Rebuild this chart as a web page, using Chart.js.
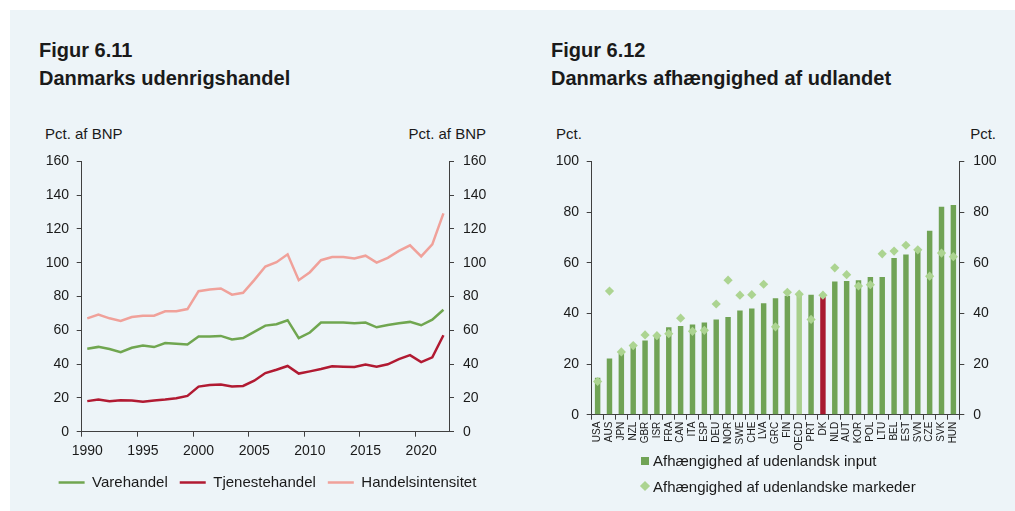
<!DOCTYPE html>
<html lang="da">
<head>
<meta charset="utf-8">
<script src="https://cdn.jsdelivr.net/npm/chart.js@4.4.1/dist/chart.umd.min.js"></script>
<style>
  body {
    margin: 0;
    width: 1015px;
    height: 511px;
    position: relative;
    overflow: hidden;
    background: #ffffff;
    font-family: "Liberation Sans", Arial, sans-serif;
    color: #1a1a1a;
  }
  .panel { position: absolute; left: 10px; top: 10px; right: 0; bottom: 0; background: #edf4f8; }
  .title { position: absolute; top: 36px; font-weight: bold; font-size: 20px; line-height: 28px; white-space: nowrap; }
  .unit { position: absolute; top: 125px; font-size: 15px; line-height: 18px; white-space: nowrap; }
  canvas { position: absolute; }
  #depLegend { position: absolute; left: 641px; top: 448px; font-size: 15px; }
  #depLegend .row { display: flex; align-items: center; height: 25.5px; white-space: nowrap; }
  #depLegend .mark { width: 8px; height: 8px; margin-right: 4px; }
  #depLegend .diamond { transform: rotate(45deg) scale(0.9); }
</style>
</head>
<body>
<div class="panel"></div>

<div class="title" style="left:39px">Figur 6.11<br>Danmarks udenrigshandel</div>
<div class="title" style="left:551px">Figur 6.12<br>Danmarks afhængighed af udlandet</div>

<div class="unit" style="left:45px">Pct. af BNP</div>
<div class="unit" style="right:529px">Pct. af BNP</div>
<div class="unit" style="left:556px">Pct.</div>
<div class="unit" style="right:19px">Pct.</div>

<canvas id="tradeChart" width="475" height="356" style="left:30px; top:144px"></canvas>
<canvas id="depChart" width="470" height="316" style="left:540px; top:144px"></canvas>
<div id="depLegend"></div>

<script>
// =============================
// DATA
// =============================
const years = [
  1990, 1991, 1992, 1993, 1994, 1995, 1996, 1997, 1998, 1999,
  2000, 2001, 2002, 2003, 2004, 2005, 2006, 2007, 2008, 2009,
  2010, 2011, 2012, 2013, 2014, 2015, 2016, 2017, 2018, 2019,
  2020, 2021, 2022
];
const yearLabels = [1990, 1995, 2000, 2005, 2010, 2015, 2020];

const varehandel = [
  49.1, 50.2, 48.9, 47.1, 49.7, 51.0, 50.1, 52.5, 52.0, 51.6,
  56.3, 56.3, 56.7, 54.6, 55.4, 59.1, 62.8, 63.6, 66.0, 55.4,
  58.7, 64.6, 64.6, 64.6, 64.2, 64.6, 61.8, 63.2, 64.2, 65.0,
  63.0, 66.3, 72.2
];
const tjenestehandel = [
  18.1, 19.0, 18.1, 18.6, 18.5, 17.7, 18.5, 19.0, 19.8, 21.2,
  26.7, 27.7, 27.9, 26.7, 27.1, 30.2, 34.7, 36.7, 38.9, 34.4,
  35.7, 37.1, 38.7, 38.5, 38.3, 39.7, 38.5, 39.9, 43.0, 45.3,
  41.2, 44.0, 57.1
];
const handelsintensitet = [
  67.1, 69.3, 67.1, 65.6, 67.9, 68.7, 68.7, 71.3, 71.3, 72.6,
  83.2, 84.2, 84.8, 81.1, 82.2, 89.7, 97.8, 100.3, 105.0, 89.7,
  94.4, 101.5, 103.4, 103.4, 102.5, 104.2, 100.1, 102.9, 107.0, 110.3,
  103.8, 110.9, 129.2
];
const tradeTicks = [0, 20, 40, 60, 80, 100, 120, 140, 160];

const countries = [
  'USA', 'AUS', 'JPN', 'NZL', 'GBR', 'ISR', 'FRA', 'CAN', 'ITA', 'ESP',
  'DEU', 'NOR', 'SWE', 'CHE', 'LVA', 'GRC', 'FIN', 'OECD', 'PRT', 'DK',
  'NLD', 'AUT', 'KOR', 'POL', 'LTU', 'BEL', 'EST', 'SVN', 'CZE', 'SVK', 'HUN'
];
const inputShare = [
  14.6, 22.2, 24.2, 26.7, 29.3, 30.7, 34.5, 35.0, 35.6, 36.4,
  37.6, 38.6, 41.1, 41.9, 44.0, 46.0, 47.0, 47.7, 47.4, 46.8,
  52.6, 52.8, 53.1, 54.4, 54.4, 61.9, 63.2, 64.7, 72.6, 82.1, 82.8
];
const marketShare = [
  13.1, 48.8, 24.8, 27.3, 31.5, 31.2, 32.0, 38.1, 32.9, 33.3,
  43.7, 53.1, 47.2, 47.4, 51.5, 34.7, 48.3, 47.6, 37.6, 47.2,
  58.0, 55.3, 50.8, 51.3, 63.5, 64.6, 66.9, 65.1, 54.7, 63.8, 62.4
];
const shareTicks = [0, 20, 40, 60, 80, 100];

// =============================
// SHARED STYLE
// =============================
const FONT = '"Liberation Sans", Arial, sans-serif';
const AXIS = '#404040';
const TEXT = '#1a1a1a';

Chart.defaults.font.family = FONT;
Chart.defaults.color = TEXT;
Chart.defaults.animation = false;

function valueAxis(ticks, position, width, pad) {
  return {
    type: 'linear',
    position,
    min: ticks[0],
    max: ticks[ticks.length - 1],
    afterBuildTicks: s => { s.ticks = ticks.map(v => ({ value: v })); },
    afterFit: s => { s.width = width; },
    border: { display: true, color: AXIS, width: 1 },
    grid: { drawOnChartArea: false, drawTicks: true, tickLength: 5, tickColor: AXIS },
    ticks: { padding: pad, color: TEXT, font: { size: 14 } }
  };
}

// =============================
// FIGUR 6.11 - UDENRIGSHANDEL
// =============================
const tradeSeries = [
  { label: 'Varehandel', data: varehandel, color: '#70a650' },
  { label: 'Tjenestehandel', data: tjenestehandel, color: '#b11a32' },
  { label: 'Handelsintensitet', data: handelsintensitet, color: '#f0a19a' }
];

new Chart(document.getElementById('tradeChart'), {
  type: 'line',
  data: {
    labels: years,
    datasets: tradeSeries.map(s => ({
      label: s.label,
      data: s.data,
      borderColor: s.color,
      backgroundColor: s.color,
      borderWidth: 2.5,
      pointRadius: 0,
      tension: 0,
      yAxisID: 'y'
    }))
  },
  options: {
    responsive: false,
    layout: { padding: { top: 10, left: 0, right: 0, bottom: 0 } },
    plugins: {
      tooltip: { enabled: false },
      legend: {
        position: 'bottom',
        labels: {
          usePointStyle: true,
          pointStyle: 'line',
          pointStyleWidth: 26,
          padding: 12,
          color: TEXT,
          font: { size: 15 }
        }
      }
    },
    scales: {
      x: {
        type: 'category',
        offset: true,
        afterFit: s => { s.height = 31.3; },
        border: { display: true, color: AXIS, width: 1 },
        grid: {
          offset: true,
          drawOnChartArea: false,
          tickLength: 5,
          tickColor: ctx => (ctx.index % 5 === 0 ? AXIS : 'rgba(0,0,0,0)')
        },
        ticks: {
          autoSkip: false,
          maxRotation: 0,
          padding: 6,
          color: TEXT,
          font: { size: 14 },
          callback: (v, i) => (yearLabels.includes(years[i]) ? String(years[i]) : '')
        }
      },
      y: valueAxis(tradeTicks, 'left', 51.7, 7.7),
      y1: valueAxis(tradeTicks, 'right', 56, 9)
    }
  }
});

// =============================
// FIGUR 6.12 - AFHÆNGIGHED AF UDLANDET
// =============================
const barGreen = '#70a355';
const barColors = countries.map(c => (c === 'DK' ? '#a8192f' : c === 'OECD' ? '#a8cf8c' : barGreen));
const diamondColor = '#acd491';

const depChart = new Chart(document.getElementById('depChart'), {
  data: {
    labels: countries,
    datasets: [
      {
        type: 'bar',
        label: 'Afhængighed af udenlandsk input',
        data: inputShare,
        backgroundColor: barColors,
        barPercentage: 0.46,
        categoryPercentage: 1,
        order: 1
      },
      {
        type: 'line',
        label: 'Afhængighed af udenlandske markeder',
        data: marketShare,
        showLine: false,
        pointStyle: 'rectRot',
        pointRadius: 4.6,
        pointBorderWidth: 0,
        pointBackgroundColor: diamondColor,
        backgroundColor: diamondColor,
        order: 0
      }
    ]
  },
  options: {
    responsive: false,
    layout: { padding: { top: 10, left: 0, right: 0, bottom: 0 } },
    plugins: {
      tooltip: { enabled: false },
      legend: { display: false }
    },
    scales: {
      x: {
        type: 'category',
        offset: true,
        // rotated country codes need room below the axis
        afterFit: s => { s.height = 45.3; },
        border: { display: true, color: AXIS, width: 1 },
        grid: { offset: true, drawOnChartArea: false, tickLength: 5, tickColor: AXIS },
        ticks: {
          autoSkip: false,
          minRotation: 90,
          maxRotation: 90,
          padding: 2,
          color: TEXT,
          font: { size: 10 }
        }
      },
      y: valueAxis(shareTicks, 'left', 51.7, 7.7),
      y1: valueAxis(shareTicks, 'right', 50.7, 9)
    }
  }
});

// =============================
// LEGEND (Figur 6.12)
// =============================
const legendBox = document.getElementById('depLegend');
depChart.data.datasets.forEach((ds, i) => {
  const row = document.createElement('div');
  row.className = 'row';
  const mark = document.createElement('span');
  mark.className = i === 0 ? 'mark' : 'mark diamond';
  mark.style.background = i === 0 ? barGreen : diamondColor;
  const text = document.createElement('span');
  text.textContent = ds.label;
  row.appendChild(mark);
  row.appendChild(text);
  legendBox.appendChild(row);
});
</script>
</body>
</html>
